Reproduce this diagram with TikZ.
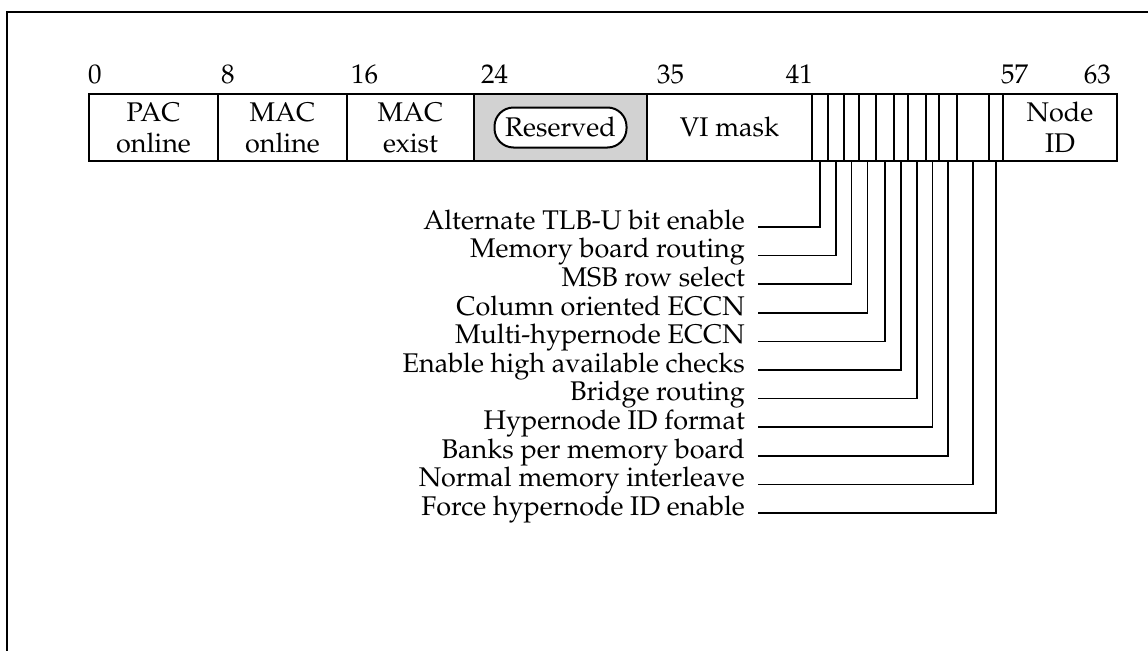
\documentclass[tikz,border=0pt]{standalone}
\usepackage[T1]{fontenc}
\usepackage{mathpazo}
\usepackage{tikz}
\usetikzlibrary{positioning}

\begin{document}
\begin{tikzpicture}[x=1pt,y=-1pt,font=\fontsize{27}{31}\selectfont,
field/.style={draw,line width=2pt,minimum width=#1,minimum height=67pt,inner sep=0pt,align=center,anchor=north west},
pill/.style={draw,line width=2pt,fill=white,rounded corners=19pt,minimum width=132pt,minimum height=40pt,inner sep=0pt},
bitno/.style={inner sep=0pt},
lbl/.style={anchor=east,inner xsep=13pt,inner ysep=0pt,text height=0.7em,text depth=0.25em},
lead/.style={line width=1.6pt}]
\useasboundingbox (0,0) rectangle (1148,651);
\draw[line width=2.8pt](1148,12)--(7,12)--(7,651);
% register fields
\node[field=129pt](pac) at (88,93){PAC\\online};
\node[field=129pt](macon) at (217,93){MAC\\online};
\node[field=127pt](macex) at (346,93){MAC\\exist};
\node[field=173pt,fill=gray!35](res) at (473,93){};
\node[pill](resv) at (res.center){Reserved};
\node[field=165pt](vi) at (646,93){VI mask};
\foreach \a/\b [count=\i] in {811/827,827/843,843/858,858/875,875/893,893/907,907/925,925/938,938/956,956/988,988/1002}
  \node[field={(\b-\a)*1pt}](c\i) at (\a,93){};
\node[field=114pt](nid) at (1002,93){Node\\ID};
% bit numbers
\node[bitno,anchor=base west] at (88,83){0};
\node[bitno,anchor=base west] at (221,83){8};
\node[bitno,anchor=base west] at (351,83){16};
\node[bitno,anchor=base west] at (481,83){24};
\node[bitno,anchor=base west] at (657,83){35};
\node[bitno,anchor=base east] at (813,83){41};
\node[bitno,anchor=base west] at (1001,83){57};
\node[bitno,anchor=base east] at (1111,83){63};
% single-bit flags
\foreach \t [count=\i] in {Alternate TLB-U bit enable,Memory board routing,MSB row select,Column oriented ECCN,Multi-hypernode ECCN,Enable high available checks,Bridge routing,Hypernode ID format,Banks per memory board,Normal memory interleave,Force hypernode ID enable}{
  \node[lbl](l\i) at ({758},{227+28.6*(\i-1)}){\t};
  \draw[lead](l\i.east) -| (c\i.south);
}
\end{tikzpicture}
\end{document}
